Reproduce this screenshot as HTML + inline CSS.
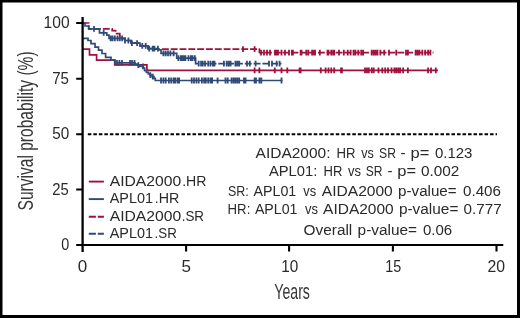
<!DOCTYPE html>
<html><head><meta charset="utf-8"><style>
html,body{margin:0;padding:0;background:#fff;}
svg{display:block;will-change:transform;}
text{font-family:"Liberation Sans",sans-serif;fill:#2a2a2a;}
</style></head><body>
<svg width="520" height="318" viewBox="0 0 520 318">
<rect x="0" y="0" width="520" height="318" fill="#fff"/>
<path d="M87.82,134.2H497" stroke="#000" stroke-width="2" stroke-dasharray="3.55 1.96"/>
<path d="M82.7,49.2H89.5V54.9H96.6V60.2H114.7V64.9H146.9V70.4H438" stroke="#a0103c" stroke-width="1.7" fill="none"/>
<path d="M254.6,67.5V73.3M259.4,67.5V73.3M274.8,67.5V73.3M281.5,67.5V73.3M287.3,67.5V73.3M299.6,67.5V73.3M300.6,67.5V73.3M320.8,67.5V73.3M325.6,67.5V73.3M328.5,67.5V73.3M331.3,67.5V73.3M334.2,67.5V73.3M341,67.5V73.3M341.9,67.5V73.3M365,67.5V73.3M366.9,67.5V73.3M368.8,67.5V73.3M371.7,67.5V73.3M373.7,67.5V73.3M378.5,67.5V73.3M382.3,67.5V73.3M385.2,67.5V73.3M388,67.5V73.3M391.5,67.5V73.3M394.4,67.5V73.3M396.3,67.5V73.3M398.3,67.5V73.3M400.2,67.5V73.3M403.1,67.5V73.3M407.9,67.5V73.3M428.1,67.5V73.3M431,67.5V73.3M435.8,67.5V73.3" stroke="#a0103c" stroke-width="1.8" fill="none"/>
<path d="M82.7,23H88.7V28.9H112.2V30.6H115.6V33.6H119.8V37.5H122V38.6H125V40.5H131V43.2H140V45.9H148V48.6H152V49.2H153" stroke="#a0103c" stroke-width="1.7" fill="none" stroke-dasharray="6.9 1.92" stroke-dashoffset="0.46"/>
<path d="M152,49.2H259.4" stroke="#a0103c" stroke-width="1.7" fill="none" stroke-dasharray="6.9 1.92" stroke-dashoffset="7.74"/>
<path d="M259.4,48.5V53.2" stroke="#a0103c" stroke-width="1.7" fill="none"/>
<path d="M259.4,52.7H433.5" stroke="#a0103c" stroke-width="1.7" fill="none" stroke-dasharray="6.9 1.92" stroke-dashoffset="3.20"/>
<path d="M243,46.3V52.1M254.6,46.3V52.1M261,49.8V55.6M264,49.8V55.6M267,49.8V55.6M270,49.8V55.6M275,49.8V55.6M276.5,49.8V55.6M278,49.8V55.6M281.5,49.8V55.6M285,49.8V55.6M289,49.8V55.6M291.9,49.8V55.6M292.9,49.8V55.6M300.6,49.8V55.6M301.5,49.8V55.6M306.3,49.8V55.6M308.3,49.8V55.6M312.1,49.8V55.6M314,49.8V55.6M315,49.8V55.6M319.8,49.8V55.6M327.5,49.8V55.6M328.5,49.8V55.6M331.3,49.8V55.6M333.3,49.8V55.6M334.2,49.8V55.6M339,49.8V55.6M343.8,49.8V55.6M347.7,49.8V55.6M350.6,49.8V55.6M353.5,49.8V55.6M355.4,49.8V55.6M358.3,49.8V55.6M361.2,49.8V55.6M363.1,49.8V55.6M371.7,49.8V55.6M373.7,49.8V55.6M375.6,49.8V55.6M377.5,49.8V55.6M380.4,49.8V55.6M384.2,49.8V55.6M389,49.8V55.6M396.3,49.8V55.6M406,49.8V55.6M407.9,49.8V55.6M415.6,49.8V55.6M417.5,49.8V55.6M419.4,49.8V55.6M422.3,49.8V55.6M425.2,49.8V55.6M428.1,49.8V55.6M430.4,49.8V55.6" stroke="#a0103c" stroke-width="1.8" fill="none"/>
<path d="M82.7,38.3H88V40.5H91V43.6H95V47.1H98.5V50.2H102V53.5H105.6V57.3H111V60.2H115V62.8H135V64.2H137V65.2H139.6V66.4H143.3V68.2H144.6V70.6H146.5V72.4H148.4V73.9H150.3V75.2H152.1V76.6H154V78.3H155.3V80.5H282.5" stroke="#304a78" stroke-width="1.7" fill="none"/>
<path d="M117,59.9V65.7M119.4,59.9V65.7M122,59.9V65.7M130,59.9V65.7M132,59.9V65.7M134.5,59.9V65.7M138.3,62.3V68.1M143,63.5V69.3M150.3,72.3V78.1M152.8,73.7V79.5M161,77.6V83.4M163.4,77.6V83.4M165.7,77.6V83.4M168.9,77.6V83.4M171.2,77.6V83.4M173.6,77.6V83.4M175.2,77.6V83.4M177.5,77.6V83.4M179.1,77.6V83.4M191.7,77.6V83.4M194,77.6V83.4M196.4,77.6V83.4M198.7,77.6V83.4M201.9,77.6V83.4M204.2,77.6V83.4M205.8,77.6V83.4M208.2,77.6V83.4M210.5,77.6V83.4M212.1,77.6V83.4M217.6,77.6V83.4M225.5,77.6V83.4M227.7,77.6V83.4M231.5,77.6V83.4M233.5,77.6V83.4M235.4,77.6V83.4M237.3,77.6V83.4M239.2,77.6V83.4M244,77.6V83.4M245.5,77.6V83.4M254.6,77.6V83.4M256,77.6V83.4M259.4,77.6V83.4M261.3,77.6V83.4M281.5,77.6V83.4" stroke="#304a78" stroke-width="1.8" fill="none"/>
<path d="M82.7,23H85V26H88.7V28.9H99.5V32.8H106.8V35.1H109V38.3H125V40.5H131V43.2H140V45.9H148V48.6H158V49.9H161V53.4H176.7V58.1H195.6V63.6H196" stroke="#304a78" stroke-width="1.7" fill="none"/>
<path d="M195.6,63.6H281.5" stroke="#304a78" stroke-width="1.7" fill="none" stroke-dasharray="6.9 1.92" stroke-dashoffset="3.72"/>
<path d="M94,26.0V31.8M103.7,29.9V35.7M110.6,35.4V41.2M112.5,35.4V41.2M114.8,35.4V41.2M117.5,35.4V41.2M119.8,35.4V41.2M122.2,35.4V41.2M125,37.6V43.4M128.4,37.6V43.4M131.9,40.3V46.1M137.1,40.3V46.1M142.3,43.0V48.8M145.7,43.0V48.8M149.2,45.7V51.5M152.7,45.7V51.5M154.4,45.7V51.5M157.9,45.7V51.5M163.4,50.5V56.3M165.7,50.5V56.3M168,50.5V56.3M170.4,50.5V56.3M173.6,50.5V56.3M178.3,55.2V61.0M180.7,55.2V61.0M182.2,55.2V61.0M183.8,55.2V61.0M185.4,55.2V61.0M188.5,55.2V61.0M190.9,55.2V61.0M192.5,55.2V61.0M194.8,55.2V61.0M198.7,60.7V66.5M201.1,60.7V66.5M202.7,60.7V66.5M205,60.7V66.5M208.2,60.7V66.5M210.5,60.7V66.5M212.9,60.7V66.5M214.5,60.7V66.5M223.9,60.7V66.5M226.7,60.7V66.5M228.7,60.7V66.5M230.6,60.7V66.5M235.4,60.7V66.5M237.3,60.7V66.5M239.2,60.7V66.5M247,60.7V66.5M249.8,60.7V66.5M255.6,60.7V66.5M269,60.7V66.5M272,60.7V66.5M276.7,60.7V66.5M279.6,60.7V66.5" stroke="#304a78" stroke-width="1.8" fill="none"/>
<path d="M82.6,17V252" stroke="#000" stroke-width="2.3" fill="none"/>
<path d="M76.2,245H503.3" stroke="#000" stroke-width="2.2" fill="none"/>
<path d="M76.2,23H82.6M76.2,78.7H82.6M76.2,134.2H82.6M76.2,189.5H82.6M186.1,245V251.5M289.1,245V251.5M392.9,245V251.5M496.5,245V251.5" stroke="#000" stroke-width="2.1" fill="none"/>
<g font-size="17" text-anchor="end" style="fill:#1a1a1a">
<text x="69.6" y="27.8" textLength="26" lengthAdjust="spacingAndGlyphs">100</text>
<text x="69" y="83.6" textLength="16.8" lengthAdjust="spacingAndGlyphs">75</text>
<text x="69.3" y="139.3" textLength="17" lengthAdjust="spacingAndGlyphs">50</text>
<text x="68.8" y="194.9" textLength="16.5" lengthAdjust="spacingAndGlyphs">25</text>
<text x="69.3" y="249.8" textLength="8" lengthAdjust="spacingAndGlyphs">0</text>
</g>
<g font-size="17" text-anchor="middle" style="fill:#1a1a1a">
<text x="82.4" y="272">0</text>
<text x="186.2" y="272">5</text>
<text x="289.8" y="272" textLength="17" lengthAdjust="spacingAndGlyphs">10</text>
<text x="393.2" y="272" textLength="16" lengthAdjust="spacingAndGlyphs">15</text>
<text x="496.2" y="272" textLength="17.6" lengthAdjust="spacingAndGlyphs">20</text>
</g>
<text x="274.3" y="299" font-size="21.5" style="fill:#383838" textLength="35.6" lengthAdjust="spacingAndGlyphs">Years</text>
<text transform="translate(33.3,210.4) rotate(-90)" x="0" y="0" font-size="21.5" style="fill:#383838" textLength="159" lengthAdjust="spacingAndGlyphs">Survival probability (%)</text>
<path d="M88.8,181.6H103.9" stroke="#a0103c" stroke-width="1.9"/>
<path d="M88.8,199.1H103.9" stroke="#304a78" stroke-width="1.9"/>
<path d="M88.8,216.7H95.9M97.8,216.7H103.9" stroke="#a0103c" stroke-width="1.9"/>
<path d="M88.8,233.7H95.9M97.8,233.7H103.9" stroke="#304a78" stroke-width="1.9"/>
<g font-size="15.5">
<text x="109.7" y="185.9" textLength="71.6" lengthAdjust="spacingAndGlyphs">AIDA2000</text><text x="182.2" y="185.9" textLength="24.3" lengthAdjust="spacingAndGlyphs">.HR</text>
<text x="109.7" y="203.1" textLength="43.3" lengthAdjust="spacingAndGlyphs">APL01</text><text x="154.7" y="203.1" textLength="24.5" lengthAdjust="spacingAndGlyphs">.HR</text>
<text x="109.7" y="220.8" textLength="71.6" lengthAdjust="spacingAndGlyphs">AIDA2000</text><text x="181.7" y="220.8" textLength="22.3" lengthAdjust="spacingAndGlyphs">.SR</text>
<text x="109.7" y="238.1" textLength="43.3" lengthAdjust="spacingAndGlyphs">APL01</text><text x="154.6" y="238.1" textLength="22.2" lengthAdjust="spacingAndGlyphs">.SR</text>
</g>
<g font-size="15.5">
<text x="255.6" y="158.3" textLength="74.9" lengthAdjust="spacingAndGlyphs">AIDA2000:</text><text x="336.5" y="158.3" textLength="19.0" lengthAdjust="spacingAndGlyphs">HR</text><text x="361.3" y="158.3" textLength="12.6" lengthAdjust="spacingAndGlyphs">vs</text><text x="379.1" y="158.3" textLength="16.9" lengthAdjust="spacingAndGlyphs">SR</text><text x="400.5" y="158.3" textLength="5.1" lengthAdjust="spacingAndGlyphs">-</text><text x="410.6" y="158.3" textLength="18.8" lengthAdjust="spacingAndGlyphs">p=</text><text x="434.9" y="158.3" textLength="37.5" lengthAdjust="spacingAndGlyphs">0.123</text>
<text x="268.9" y="176.4" textLength="48.4" lengthAdjust="spacingAndGlyphs">APL01:</text><text x="323.5" y="176.4" textLength="18.8" lengthAdjust="spacingAndGlyphs">HR</text><text x="348.0" y="176.4" textLength="13.0" lengthAdjust="spacingAndGlyphs">vs</text><text x="365.8" y="176.4" textLength="16.8" lengthAdjust="spacingAndGlyphs">SR</text><text x="387.6" y="176.4" textLength="5.1" lengthAdjust="spacingAndGlyphs">-</text><text x="397.3" y="176.4" textLength="18.8" lengthAdjust="spacingAndGlyphs">p=</text><text x="420.9" y="176.4" textLength="38.4" lengthAdjust="spacingAndGlyphs">0.002</text>
<text x="227.9" y="195.7" textLength="20.7" lengthAdjust="spacingAndGlyphs">SR:</text><text x="253.4" y="195.7" textLength="42.9" lengthAdjust="spacingAndGlyphs">APL01</text><text x="303.3" y="195.7" textLength="12.8" lengthAdjust="spacingAndGlyphs">vs</text><text x="321.8" y="195.7" textLength="71.0" lengthAdjust="spacingAndGlyphs">AIDA2000</text><text x="398.1" y="195.7" textLength="58.5" lengthAdjust="spacingAndGlyphs">p-value=</text><text x="463.0" y="195.7" textLength="38.0" lengthAdjust="spacingAndGlyphs">0.406</text>
<text x="227.6" y="213.9" textLength="22.7" lengthAdjust="spacingAndGlyphs">HR:</text><text x="254.9" y="213.9" textLength="42.6" lengthAdjust="spacingAndGlyphs">APL01</text><text x="305.0" y="213.9" textLength="13.0" lengthAdjust="spacingAndGlyphs">vs</text><text x="323.1" y="213.9" textLength="70.6" lengthAdjust="spacingAndGlyphs">AIDA2000</text><text x="398.9" y="213.9" textLength="59.5" lengthAdjust="spacingAndGlyphs">p-value=</text><text x="463.6" y="213.9" textLength="38.1" lengthAdjust="spacingAndGlyphs">0.777</text>
<text x="303.6" y="235.1" textLength="48.7" lengthAdjust="spacingAndGlyphs">Overall</text><text x="357.6" y="235.1" textLength="59.4" lengthAdjust="spacingAndGlyphs">p-value=</text><text x="422.9" y="235.1" textLength="29.3" lengthAdjust="spacingAndGlyphs">0.06</text>
</g>
<rect x="0" y="0" width="520" height="2.5" fill="#000"/>
<rect x="0" y="0" width="2.5" height="318" fill="#000"/>
<rect x="517" y="0" width="3" height="318" fill="#000"/>
<rect x="0" y="315" width="520" height="3" fill="#000"/>
</svg>
</body></html>
